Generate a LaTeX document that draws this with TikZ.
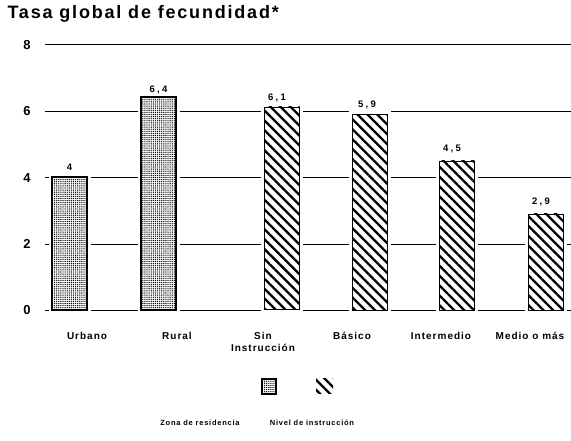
\documentclass[tikz,border=0pt]{standalone}
\usepackage{fontspec}
\newfontfamily\chartfont[LetterSpace=10]{Liberation Sans}
\newfontfamily\valuefont[LetterSpace=25]{Liberation Sans}
\usetikzlibrary{positioning,patterns,patterns.meta}

\begin{document}
\begin{tikzpicture}[x=1pt,y=-1pt]

	\tikzstyle{zonebar}=[draw, line width=1.8pt, inner sep=0pt, minimum width=35pt, anchor=south, preaction={draw=white, fill=white, line width=7pt}, pattern={Dots[distance=2.1pt, radius=0.7pt]}];
	\tikzstyle{nivelbar}=[draw, line width=0.5pt, inner sep=0pt, minimum width=35pt, anchor=south, preaction={draw=white, fill=white, line width=7pt}, pattern={Lines[angle=-45, distance=7pt, line width=2.3pt]}];
	\tikzstyle{ticklabel}=[font=\chartfont\bfseries\fontsize{13}{13}\selectfont];
	\tikzstyle{valuelabel}=[font=\valuefont\bfseries\fontsize{9.5}{10}\selectfont, inner sep=1pt];
	\tikzstyle{catlabel}=[font=\chartfont\bfseries\fontsize{10}{12}\selectfont, align=center, anchor=north];
	\tikzstyle{legendlabel}=[font=\chartfont\bfseries\fontsize{7.5}{8}\selectfont];
	\tikzstyle{gridline}=[line width=0.9pt];

    \useasboundingbox (0,0) rectangle (571,440);

    \node (title) at (4,14) [anchor=west, font=\chartfont\bfseries\fontsize{18}{20}\selectfont]{Tasa global de fecundidad*};

    % escala y lineas de referencia
    \foreach \v in {0,2,4,6,8} {
    	\node (tick\v) at (27,{310.5-33.2*\v}) [ticklabel]{\v};
    	\coordinate (start\v) at (45,{310.5-33.2*\v});
    	\coordinate (end\v) at (571,{310.5-33.2*\v});
    	\draw[gridline] (start\v) -- (end\v);
    }

    % barras
    \node (urbano) at (69.5,310.5) [zonebar, minimum height=4*33.2pt]{};
    \node (rural) at (158.5,310.5) [zonebar, minimum height=6.4*33.2pt]{};
    \node (sin) at (282,310.5) [nivelbar, minimum height=6.1*33.2pt]{};
    \node (basico) at (370,310.5) [nivelbar, minimum height=5.9*33.2pt]{};
    \node (intermedio) at (457,310.5) [nivelbar, minimum height=4.5*33.2pt]{};
    \node (medio) at (546,310.5) [nivelbar, minimum height=2.9*33.2pt]{};

    \node (v_urbano) [above = 4pt of urbano, valuelabel]{4};
    \node (v_rural) [above = 1pt of rural, valuelabel]{6,4};
    \node (v_sin) [above = 3pt of sin, xshift=-5pt, valuelabel]{6,1};
    \node (v_basico) [above = 4pt of basico, xshift=-3pt, valuelabel]{5,9};
    \node (v_intermedio) [above = 6pt of intermedio, xshift=-5pt, valuelabel]{4,5};
    \node (v_medio) [above = 7pt of medio, xshift=-5pt, valuelabel]{2,9};

    % categorias
    \node (c_urbano) at (87,329) [catlabel]{Urbano};
    \node (c_rural) at (177,329) [catlabel]{Rural};
    \node (c_sin) at (263,329) [catlabel]{Sin\\Instrucción};
    \node (c_basico) at (352,329) [catlabel]{Básico};
    \node (c_intermedio) at (441,329) [catlabel]{Intermedio};
    \node (c_medio) at (530,329) [catlabel]{Medio o más};

    % leyenda
    \node (leg_zona) at (269,386.5) [zonebar, anchor=center, minimum width=14pt, minimum height=15pt, line width=1.2pt]{};
    \node (leg_nivel) at (324.5,385.5) [nivelbar, anchor=center, minimum width=17pt, minimum height=15pt, draw=none]{};
    \node (t_zona) at (200,423) [legendlabel]{Zona de residencia};
    \node (t_nivel) at (312,423) [legendlabel]{Nivel de instrucción};

\end{tikzpicture}
\end{document}
